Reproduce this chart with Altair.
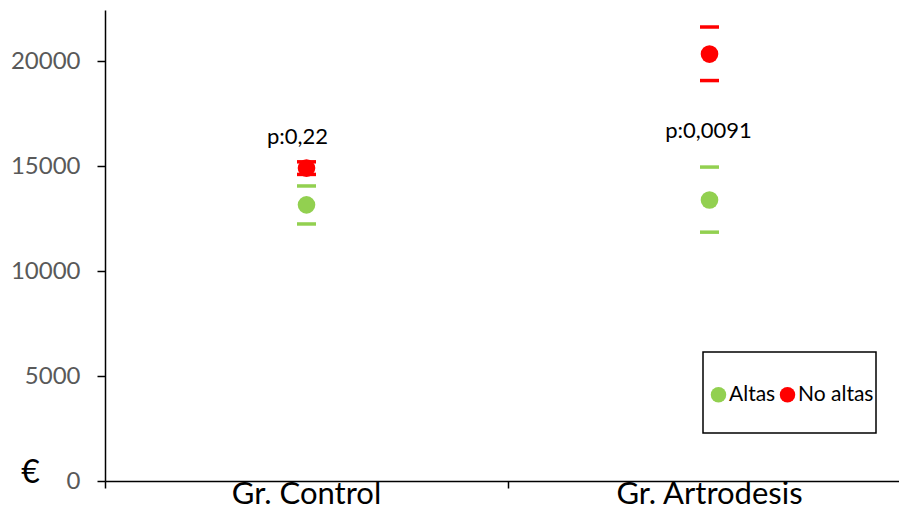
import altair as alt
import pandas as pd

groups = ["Gr. Control", "Gr. Artrodesis"]
series = ["Altas", "No altas"]
altas_mean = [13150, 13380]
altas_upper = [14050, 14950]
altas_lower = [12240, 11850]
noaltas_mean = [14900, 20330]
noaltas_upper = [15200, 21620]
noaltas_lower = [14600, 19070]
p_labels = ["p:0,22", "p:0,0091"]
p_label_y = [16400, 16680]
y_ticks = [0, 5000, 10000, 15000, 20000]
colors = ["#92D050", "#FF0000"]

rows = []
for i, g in enumerate(groups):
    rows.append({"group": g, "serie": "Altas", "mean": altas_mean[i], "upper": altas_upper[i], "lower": altas_lower[i]})
    rows.append({"group": g, "serie": "No altas", "mean": noaltas_mean[i], "upper": noaltas_upper[i], "lower": noaltas_lower[i]})
df = pd.DataFrame(rows)
df_text = pd.DataFrame({"group": groups, "label": p_labels, "y": p_label_y})

FONT = "Lato"

x_enc = alt.X("group:N", sort=groups,
              scale=alt.Scale(range=[0, 806], paddingInner=0, paddingOuter=0),
              axis=alt.Axis(title=None, labelAngle=0, labelFont=FONT, labelFontSize=31,
                            labelColor="black", domainColor="black", domainWidth=1.5,
                            tickColor="black", tickWidth=1.5, tickSize=7, bandPosition=0,
                            labelBaseline="alphabetic", labelPadding=15, labelLimit=0))
y_scale = alt.Scale(domain=[0, 22430], nice=False)
y_axis = alt.Axis(values=y_ticks, format="d", grid=False, title="€", titleAngle=0, titleFont=FONT,
                  titleFontSize=32, titleFontWeight="normal", titleColor="black",
                  titleX=-75, titleY=462, titleAlign="center", titleBaseline="middle",
                  labelFont=FONT, labelFontSize=24, labelColor="#595959",
                  domainColor="black", domainWidth=1.5, tickColor="black", tickWidth=1.5,
                  tickSize=8, labelPadding=17)

color_enc = alt.Color("serie:N", scale=alt.Scale(domain=series, range=colors),
                      legend=alt.Legend(title=None, orient="none", legendX=603, legendY=374,
                                        direction="horizontal", symbolType="circle", symbolSize=240,
                                        symbolStrokeWidth=0, symbolOpacity=1,
                                        labelFont=FONT, labelFontSize=21, labelColor="black",
                                        labelOffset=0, columnPadding=1, zindex=2))

box = alt.Chart(alt.Data(values=[{}])).mark_rect(filled=False, stroke="black", strokeWidth=1.5).encode(
    x=alt.value(598), x2=alt.value(771), y=alt.value(342), y2=alt.value(423))

base = alt.Chart(df)

upper = base.mark_tick(size=19, thickness=3.5, opacity=1).encode(
    x=x_enc, y=alt.Y("upper:Q", scale=y_scale, axis=y_axis), color=color_enc)
lower = base.mark_tick(size=19, thickness=3.5, opacity=1).encode(
    x=x_enc, y=alt.Y("lower:Q", scale=y_scale, axis=y_axis), color=color_enc)
points = base.mark_circle(size=310, opacity=1).encode(
    x=x_enc, y=alt.Y("mean:Q", scale=y_scale, axis=y_axis), color=color_enc)

text_base = alt.Chart(df_text).encode(
    x=x_enc, y=alt.Y("y:Q", scale=y_scale, axis=y_axis), text="label:N")
text_ctrl = text_base.mark_text(font=FONT, fontSize=22, color="black", dx=-9).transform_filter(
    alt.datum.group == groups[0])
text_art = text_base.mark_text(font=FONT, fontSize=22, color="black", dx=-1).transform_filter(
    alt.datum.group == groups[1])

chart = alt.layer(box, upper, lower, points, text_ctrl, text_art).properties(
    width=794, height=471,
    autosize=alt.AutoSizeParams(type="none"),
    padding={"left": 97, "top": 2, "right": 0, "bottom": 25},
    background="white",
).configure_view(stroke=None)

chart.save("out.html", embed_options={"renderer": "svg", "actions": False})
